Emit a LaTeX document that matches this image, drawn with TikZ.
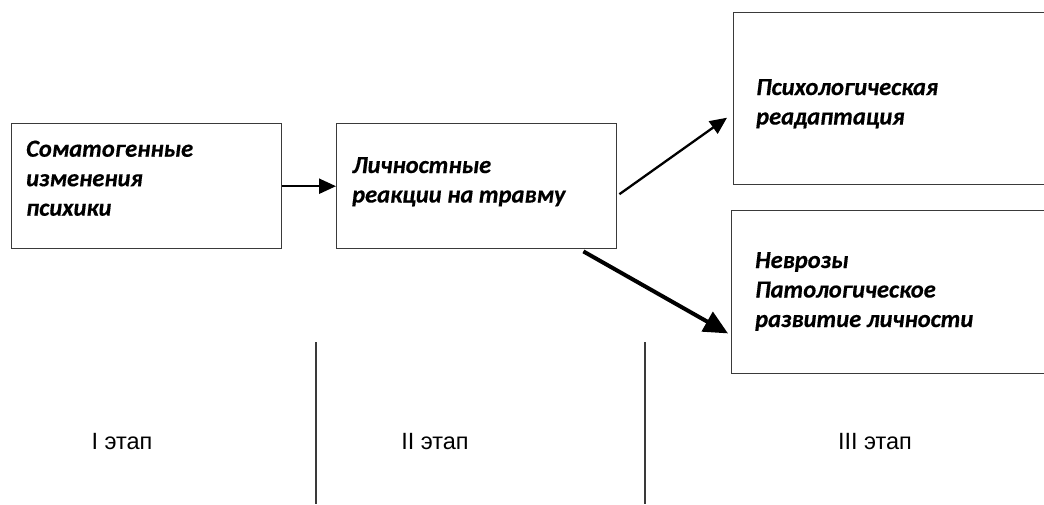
\documentclass[tikz,border=0pt]{standalone}
\usepackage{fontspec}
\setmainfont{Carlito}
\newfontfamily\boxfont{Carlito}[BoldItalicFeatures={FakeBold=0.4}]
\newfontfamily\stagefont{Liberation Sans}
\usetikzlibrary{arrows.meta,calc}
\definecolor{boxline}{HTML}{3A3A3A}
\newcommand{\boxlines}[1]{\parbox[t]{300pt}{\boxfont\fontsize{24.5}{29.5}\selectfont\bfseries\itshape #1}}
\tikzset{
  box/.style={draw=boxline, line width=1.4pt, rectangle, anchor=north west, inner sep=0pt},
  btext/.style={anchor=base west, inner sep=0pt, align=left},
  arr/.style={draw=black, line width=2.3pt, -{Triangle[length=17pt,width=15pt]}},
  bigarr/.style={draw=black, line width=4pt, -{Triangle[length=24pt,width=22pt]}},
  stage/.style={font=\stagefont\fontsize{23.5}{27}\selectfont},
  divider/.style={draw=boxline, line width=1.1pt}
}
\begin{document}
\begin{tikzpicture}[x=1pt,y=-1pt]
\useasboundingbox (0,0) rectangle (1044,504);
\fill[white] (0,0) rectangle (1044,504);

\node[box, minimum width=270pt, minimum height=125pt] (A) at (11,123) {};
\node[box, minimum width=280pt, minimum height=125pt] (B) at (336,123) {};
\node[box, minimum width=330pt, minimum height=172pt] (C) at (733,12) {};
\node[box, minimum width=330pt, minimum height=163pt] (D) at (731,210) {};

\node[btext] (At) at ($(A.north west)+(15,33.7)$) {\boxlines{Соматогенные\\изменения\\психики}};
\node[btext] (Bt) at ($(B.north west)+(16,50)$) {\boxlines{Личностные\\реакции на травму}};
\node[btext] (Ct) at ($(C.north west)+(23,83)$) {\boxlines{Психологическая\\реадаптация}};
\node[btext] (Dt) at ($(D.north west)+(24,58)$) {\boxlines{Неврозы\\Патологическое\\развитие личности}};

\draw[arr] (A) -- (B);
\draw[arr] ($(B.east)+(2,8)$) -- ($(C.west)+(-6,19)$);
\draw[bigarr] ($(B.south east)+(-34,2)$) -- ($(D.south west)+(-3,-41)$);

\draw[divider] (316,342) -- (316,504);
\draw[divider] (645,342) -- (645,504);

\node[stage] (s1) at (122,442) {I этап};
\node[stage] (s2) at (435,442) {II этап};
\node[stage] (s3) at (875,442) {III этап};
\end{tikzpicture}
\end{document}
